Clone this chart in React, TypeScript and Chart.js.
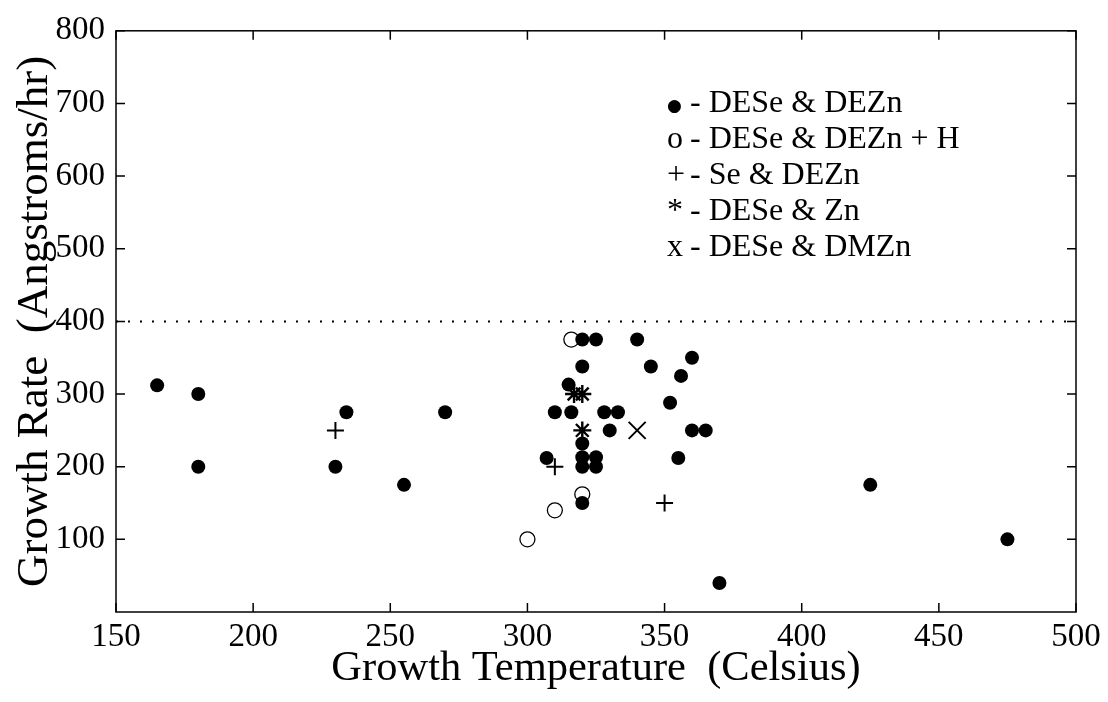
import React, { useEffect, useRef } from 'react';
import { Chart, registerables } from 'chart.js';

Chart.register(...registerables);

// Growth temperature (Celsius) / growth rate (Angstroms/hr)
const filledT = [165, 180, 180, 230, 234, 255, 270, 320, 325, 340, 360, 320, 345, 356, 315, 310, 316, 328, 333, 352, 330, 360, 365, 320, 307, 320, 325, 320, 325, 355, 320, 370, 425, 475];
const filledR = [312, 300, 200, 200, 275, 175, 275, 375, 375, 375, 350, 338, 338, 325, 313, 275, 275, 275, 275, 288, 250, 250, 250, 232, 212, 213, 213, 200, 200, 212, 150, 40, 175, 100];

const openT = [316, 320, 310, 300];
const openR = [375, 162, 140, 100];

const plusT = [230, 310, 350];
const plusR = [250, 200, 150];

const starT = [317, 320, 320];
const starR = [300, 300, 250];

const xmarkT = [340];
const xmarkR = [250];

const refLineT = [150, 500];
const refLineR = [400, 400];

const xTicks = [150, 200, 250, 300, 350, 400, 450, 500];
const yTicks = [100, 200, 300, 400, 500, 600, 700, 800];

const legendSymbols = ['●', 'o', '+', '*', 'x'];
const legendTexts = ['- DESe & DEZn', '- DESe & DEZn + H', '- Se & DEZn', '- DESe & Zn', '- DESe & DMZn'];

const xTitle = 'Growth Temperature  (Celsius)';
const yTitle = 'Growth Rate  (Angstroms/hr)';

const FONT = '"Liberation Serif", "Times New Roman", serif';

const toPts = (xs: number[], ys: number[]) => xs.map((x, i) => ({ x, y: ys[i] }));

const framePlugin = {
  id: 'frameTicks',
  afterDraw(chart: any) {
    const { ctx, chartArea } = chart;
    const xs = chart.scales.x;
    const ys = chart.scales.y;
    const { left, right, top, bottom } = chartArea;
    ctx.save();
    ctx.strokeStyle = '#000';
    ctx.lineWidth = 1.5;
    ctx.strokeRect(left, top, right - left, bottom - top);
    const tl = 9;
    ctx.beginPath();
    xTicks.forEach((v) => {
      const px = xs.getPixelForValue(v);
      ctx.moveTo(px, bottom);
      ctx.lineTo(px, bottom - tl);
      ctx.moveTo(px, top);
      ctx.lineTo(px, top + tl);
    });
    yTicks.forEach((v) => {
      const py = ys.getPixelForValue(v);
      ctx.moveTo(left, py);
      ctx.lineTo(left + tl, py);
      ctx.moveTo(right, py);
      ctx.lineTo(right - tl, py);
    });
    ctx.stroke();

    // legend text block
    ctx.fillStyle = '#000';
    ctx.textBaseline = 'alphabetic';
    ctx.textAlign = 'left';
    legendSymbols.forEach((sym, i) => {
      const baseY = 112 + i * 36;
      if (i === 0) {
        ctx.font = `17px "DejaVu Sans", sans-serif`;
        ctx.fillText(sym, 667, baseY - 1);
      } else {
        ctx.font = `32px ${FONT}`;
        ctx.fillText(sym, 667, baseY);
      }
      ctx.font = `32px ${FONT}`;
      ctx.fillText(legendTexts[i], 690, baseY);
    });
    ctx.restore();
  },
};

export default function App() {
  const ref = useRef<HTMLCanvasElement | null>(null);

  useEffect(() => {
    if (!ref.current) return;
    const chart = new Chart(ref.current, {
      type: 'scatter',
      data: {
        datasets: [
          {
            label: 'DESe & DEZn',
            data: toPts(filledT, filledR),
            pointStyle: 'circle',
            pointRadius: 7,
            pointBackgroundColor: '#000',
            pointBorderColor: '#000',
            pointBorderWidth: 0,
          },
          {
            label: 'DESe & Zn',
            data: toPts(starT, starR),
            pointStyle: 'star',
            pointRadius: 9,
            pointBorderColor: '#000',
            pointBorderWidth: 2.4,
          },
          {
            label: 'Se & DEZn',
            data: toPts(plusT, plusR),
            pointStyle: 'cross',
            pointRadius: 8.5,
            pointBorderColor: '#000',
            pointBorderWidth: 2,
          },
          {
            label: 'DESe & DMZn',
            data: toPts(xmarkT, xmarkR),
            pointStyle: 'crossRot',
            pointRadius: 12,
            pointBorderColor: '#000',
            pointBorderWidth: 2,
          },
          {
            label: 'DESe & DEZn + H',
            data: toPts(openT, openR),
            pointStyle: 'circle',
            pointRadius: 7.5,
            pointBackgroundColor: 'rgba(255,255,255,0)',
            pointBorderColor: '#000',
            pointBorderWidth: 1.3,
          },
          {
            label: 'limit',
            data: toPts(refLineT, refLineR),
            showLine: true,
            borderColor: '#000',
            borderWidth: 2,
            borderDash: [2, 10],
            pointRadius: 0,
          },
        ],
      },
      options: {
        responsive: false,
        animation: false,
        layout: { padding: { top: 22, right: 32, left: 0, bottom: 0 } },
        plugins: {
          legend: { display: false },
          tooltip: { enabled: false },
        },
        scales: {
          x: {
            type: 'linear',
            min: 150,
            max: 500,
            grid: { display: false, drawTicks: false },
            border: { display: false },
            afterBuildTicks: (s: any) => {
              s.ticks = xTicks.map((v) => ({ value: v }));
            },
            afterFit: (s: any) => {
              s.height = 90;
            },
            ticks: {
              color: '#000',
              padding: 6,
              maxRotation: 0,
              autoSkip: false,
              font: { family: FONT, size: 33 },
            },
            title: {
              display: true,
              text: xTitle,
              color: '#000',
              font: { family: FONT, size: 42.5, lineHeight: 1.2 },
              padding: { top: 0, bottom: 8 },
            },
          },
          y: {
            type: 'linear',
            min: 0,
            max: 800,
            grid: { display: false, drawTicks: false },
            border: { display: false },
            afterBuildTicks: (s: any) => {
              s.ticks = yTicks.map((v) => ({ value: v }));
            },
            afterFit: (s: any) => {
              s.width = 116;
            },
            ticks: {
              color: '#000',
              padding: 11,
              autoSkip: false,
              font: { family: FONT, size: 33 },
            },
            title: {
              display: true,
              text: yTitle,
              color: '#000',
              font: { family: FONT, size: 45, lineHeight: 1.2 },
              padding: { top: 8, bottom: 0 },
            },
          },
        },
      },
      plugins: [framePlugin],
    });
    return () => chart.destroy();
  }, []);

  return (
    <div style={{ position: 'fixed', left: 0, top: 0, width: 1108, height: 702, background: '#fff' }}>
      <canvas ref={ref} width={1108} height={702} style={{ width: 1108, height: 702 }} />
    </div>
  );
}
